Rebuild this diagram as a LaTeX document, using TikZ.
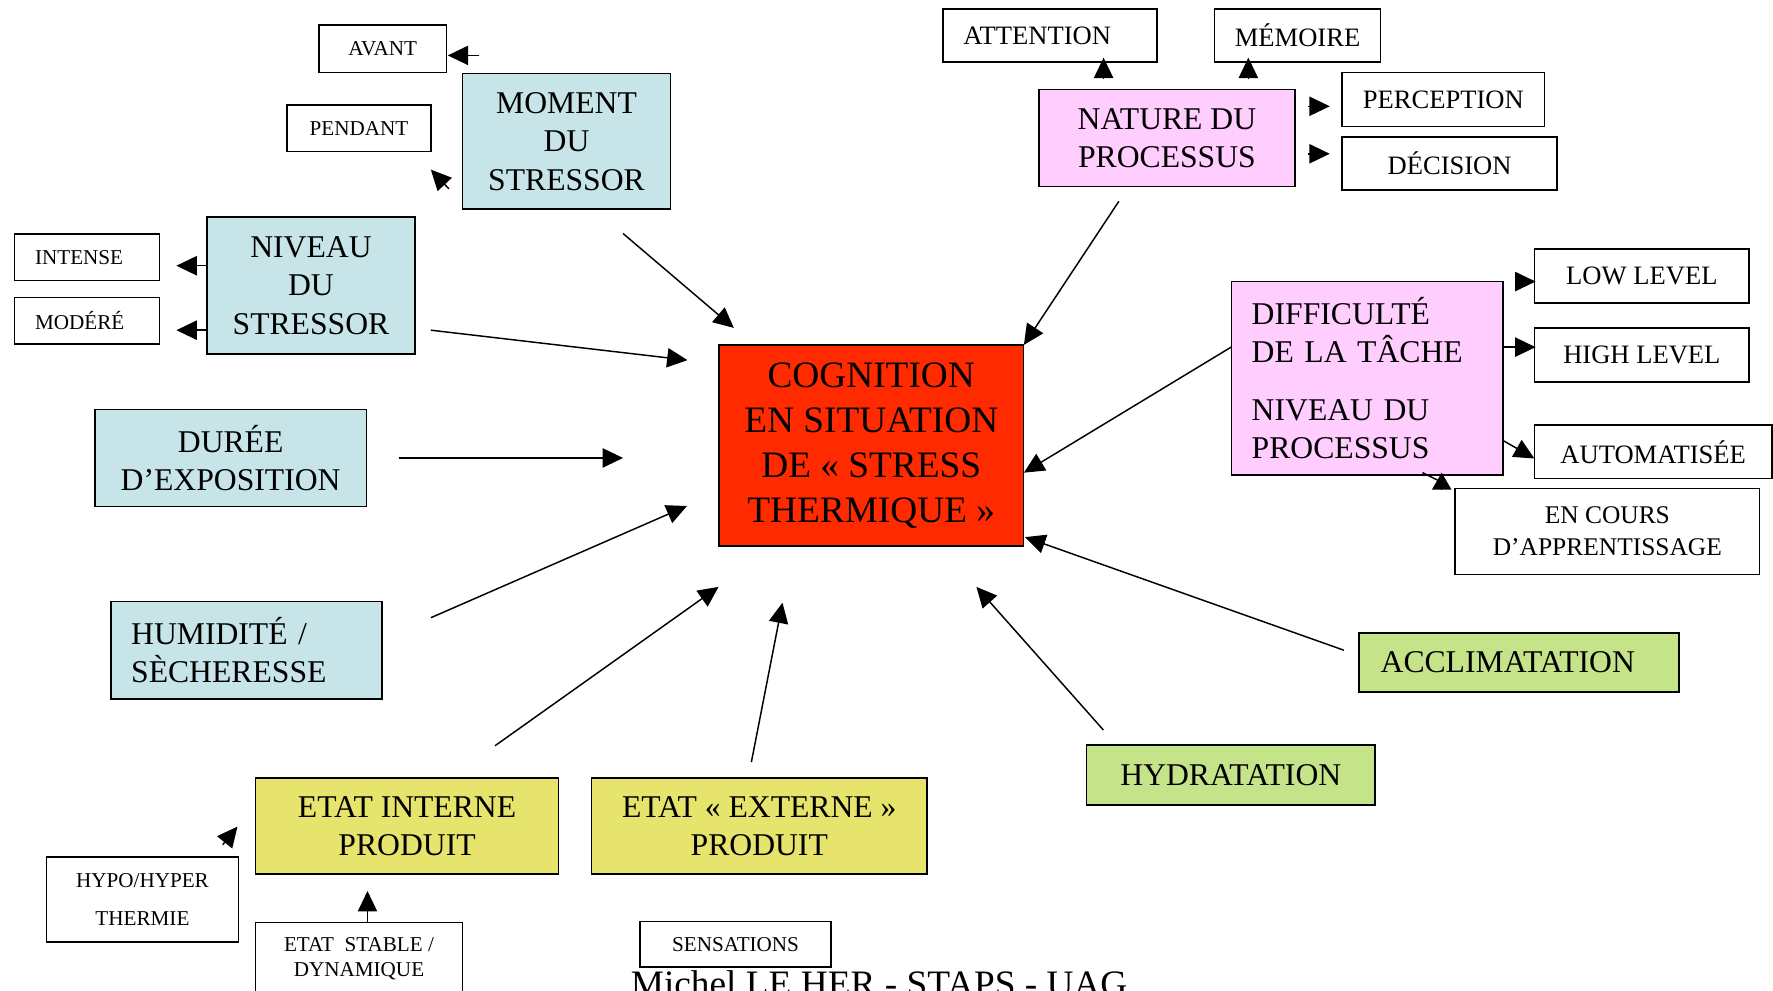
\documentclass[tikz,border=0pt]{standalone}
\usepackage{fontspec}
\setmainfont{Liberation Serif}
\usetikzlibrary{arrows.meta}
\definecolor{cyanbox}{RGB}{199,229,232}
\definecolor{pinkbox}{RGB}{255,206,255}
\definecolor{redbox}{RGB}{255,42,0}
\definecolor{greenbox}{RGB}{197,227,137}
\definecolor{yellowbox}{RGB}{230,228,108}
\tikzset{
  bx/.style={draw, line width=1.4pt, inner sep=0pt, align=center},
  big/.style={font=\fontsize{28}{34}\selectfont},
  huge/.style={font=\fontsize{33}{40}\selectfont},
  sm/.style={font=\fontsize{18.7}{22}\selectfont},
  md/.style={font=\fontsize{23.5}{28}\selectfont},
  arr/.style={line width=1.3pt, -{Triangle[length=18pt,width=17pt]}},
  stub/.style={line width=1.3pt},
}
\begin{document}
\begin{tikzpicture}[x=1pt,y=-1pt]
\useasboundingbox (0,0) rectangle (1568,876);
\clip (0,0) rectangle (1568,876);
\fill[white] (0,0) rectangle (1568,876);

% --- boxes ---
\node[bx,sm,minimum width=113,minimum height=42] (avant) at (338.5,43) {AVANT};
\node[bx,sm,minimum width=127,minimum height=41] (pendant) at (317.5,113.5) {PENDANT};
\node[bx,big,fill=cyanbox,minimum width=184,minimum height=120] (moment) at (501,125) {MOMENT\\DU\\STRESSOR};
\node[bx,sm,inner xsep=18pt,text width=92,align=left,minimum height=41] (intense) at (77,227.5) {INTENSE};
\node[bx,sm,inner xsep=18pt,text width=92,align=left,minimum height=41] (modere) at (77,283.5) {MODÉRÉ};
\node[bx,big,fill=cyanbox,minimum width=184,minimum height=121] (niveau) at (275,252.5) {NIVEAU\\DU\\STRESSOR};
\node[bx,big,fill=cyanbox,minimum width=240,minimum height=86] (duree) at (204,405) {DURÉE\\D’EXPOSITION};
\node[bx,big,fill=cyanbox,inner xsep=18pt,text width=204,align=left,minimum height=86] (humid) at (218,575) {HUMIDITÉ /\\SÈCHERESSE};
\node[bx,huge,fill=redbox,minimum width=269,minimum height=178] (central) at (770.5,394) {COGNITION\\EN SITUATION\\DE « STRESS\\THERMIQUE »};

\node[bx,md,inner xsep=18pt,text width=153,align=left,minimum height=47] (attention) at (928.5,31.5) {ATTENTION};
\node[bx,md,minimum width=147,minimum height=47] (memoire) at (1147.5,31.5) {MÉMOIRE};
\node[bx,big,fill=pinkbox,minimum width=226,minimum height=86] (nature) at (1032,122) {NATURE DU\\PROCESSUS};
\node[bx,md,minimum width=179,minimum height=48] (perception) at (1276.5,88) {PERCEPTION};
\node[bx,md,minimum width=190,minimum height=47] (decision) at (1282,144.5) {DÉCISION};
\node[bx,big,fill=pinkbox,inner xsep=18pt,text width=204,align=left,minimum height=171] (diff) at (1209,334.5) {DIFFICULTÉ\\DE LA TÂCHE\\[17pt]NIVEAU DU\\PROCESSUS};
\node[bx,md,minimum width=190,minimum height=48] (low) at (1452,244) {LOW LEVEL};
\node[bx,md,minimum width=190,minimum height=48] (high) at (1452,314) {HIGH LEVEL};
\node[bx,md,minimum width=210,minimum height=47] (auto) at (1462,399.5) {AUTOMATISÉE};
\node[bx,font=\fontsize{22.5}{28}\selectfont,minimum width=269,minimum height=76] (encours) at (1421.5,470) {EN COURS\\D’APPRENTISSAGE};
\node[bx,big,fill=greenbox,inner xsep=19pt,text width=245,align=left,minimum height=52] (accl) at (1343.5,586) {ACCLIMATATION};
\node[bx,big,fill=greenbox,minimum width=255,minimum height=53] (hydra) at (1088.5,685.5) {HYDRATATION};

\node[bx,big,fill=yellowbox,minimum width=268,minimum height=85] (interne) at (360,730.5) {ETAT INTERNE\\PRODUIT};
\node[bx,big,fill=yellowbox,minimum width=297,minimum height=85] (externe) at (671.5,730.5) {ETAT « EXTERNE »\\PRODUIT};
\node[bx,sm,minimum width=170,minimum height=75] (hypo) at (126,795.5) {HYPO/HYPER\\[12pt]THERMIE};
\node[bx,sm,anchor=north,minimum width=183,minimum height=64] (stable) at (317.5,815) {ETAT~ STABLE /\\DYNAMIQUE};
\node[bx,sm,minimum width=169,minimum height=40] (sensations) at (650.5,835) {SENSATIONS};
\node[anchor=base,huge] (footer) at (777.5,881) {Michel LE HER - STAPS - UAG};

% --- main connectors ---
\coordinate (m1) at (551,206.5);  \coordinate (c1) at (649,290);
\coordinate (n1) at (381,292);    \coordinate (c2) at (608,318.5);
\coordinate (d1) at (352.6,405);  \coordinate (c3) at (551,405);
\coordinate (h1) at (381,546.3);  \coordinate (c4) at (607.5,447.5);
\coordinate (i1) at (437.8,659.5);\coordinate (c5) at (635.5,519);
\coordinate (e1) at (664.5,674);  \coordinate (c6) at (692,533);
\coordinate (y1) at (975.8,645.6);\coordinate (c7) at (863.5,519);
\coordinate (a1) at (1188.4,575); \coordinate (c8) at (906.5,475);
\coordinate (f1) at (1089.4,306.6);\coordinate (c9) at (905.5,418);
\coordinate (p1) at (989.5,178);  \coordinate (c10) at (905.5,305);
\draw[arr] (m1) -- (c1);
\draw[arr] (n1) -- (c2);
\draw[arr] (d1) -- (c3);
\draw[arr] (h1) -- (c4);
\draw[arr] (i1) -- (c5);
\draw[arr] (e1) -- (c6);
\draw[arr] (y1) -- (c7);
\draw[arr] (a1) -- (c8);
\draw[arr] (f1) -- (c9);
\draw[arr] (p1) -- (c10);

% --- small connectors ---
\coordinate (av0) at (424,49);   \coordinate (av1) at (396,49);
\draw[arr] (av0) -- (av1);
\coordinate (pe0) at (397,167);  \coordinate (pe1) at (381,150);
\draw[arr] (pe0) -- (pe1);
\coordinate (in0) at (183,235);  \coordinate (in1) at (156,235);
\draw[arr] (in0) -- (in1);
\coordinate (mo0) at (183,292);  \coordinate (mo1) at (156,292);
\draw[arr] (mo0) -- (mo1);
\coordinate (at0) at (976,70);   \coordinate (at1) at (976,51);
\draw[arr] (at0) -- (at1);
\coordinate (me0) at (1104,70);  \coordinate (me1) at (1104,51);
\draw[arr] (me0) -- (me1);
\coordinate (pc0) at (1157,94);  \coordinate (pc1) at (1176,94);
\draw[arr] (pc0) -- (pc1);
\coordinate (dc0) at (1157,136); \coordinate (dc1) at (1176,136);
\draw[arr] (dc0) -- (dc1);
\coordinate (lo0) at (1340,249); \coordinate (lo1) at (1358,249);
\draw[arr] (lo0) -- (lo1);
\coordinate (hi0) at (1330,307); \coordinate (hi1) at (1358,307);
\draw[arr] (hi0) -- (hi1);
\coordinate (au0) at (1330,390); \coordinate (au1) at (1357,405.5);
\draw[arr] (au0) -- (au1);
\coordinate (ec0) at (1275,433); \coordinate (ec1) at (1275,418);
\draw[line width=1.3pt,-{Triangle[length=15pt,width=17pt]}] (ec0) -- (ec1);
\coordinate (ec2) at (1258,418); \coordinate (ec3) at (1272,425);
\draw[stub] (ec2) -- (ec3);
\coordinate (hy0) at (197,747);  \coordinate (hy1) at (210,731);
\draw[arr] (hy0) -- (hy1);
\coordinate (st1) at (325,788);
\draw[arr] (stable.north -| st1) -- (st1);
\end{tikzpicture}
\end{document}
